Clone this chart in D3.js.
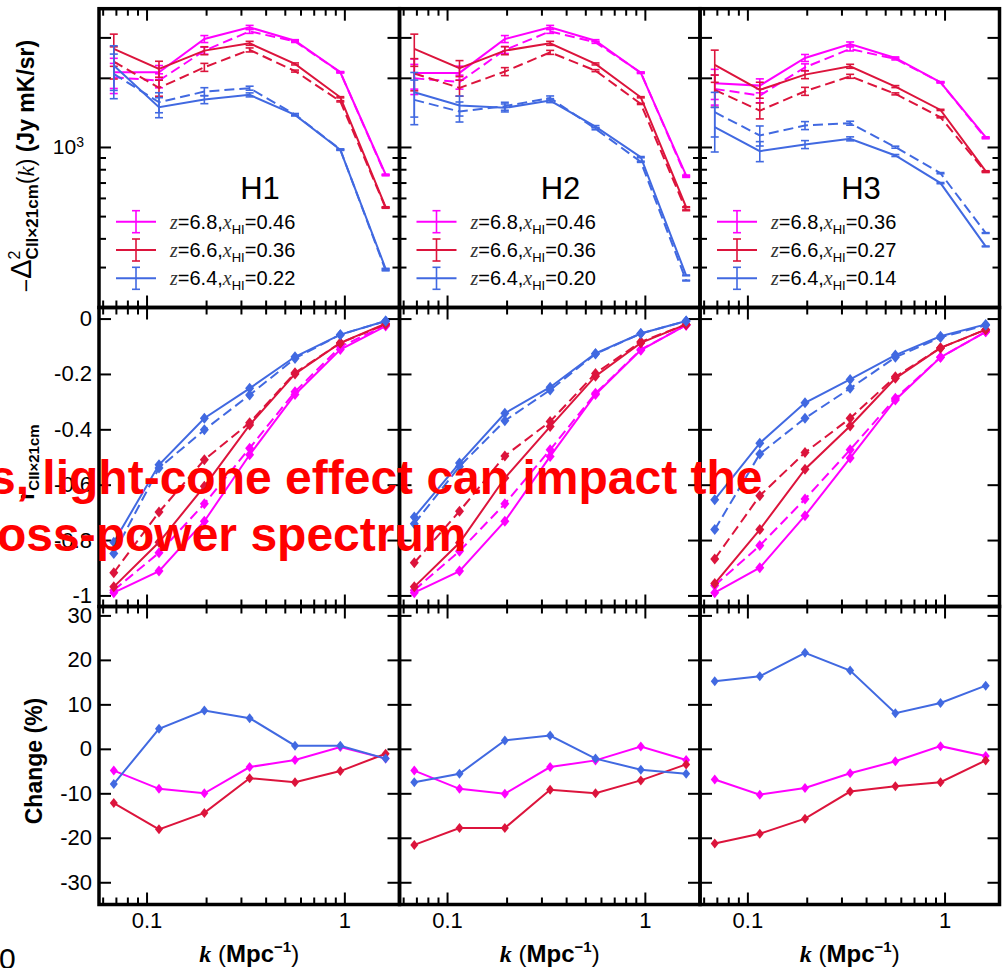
<!DOCTYPE html>
<html>
<head>
<meta charset="utf-8">
<script src="https://cdn.jsdelivr.net/npm/d3@7/dist/d3.min.js"></script>
<style>
  html, body { margin: 0; padding: 0; background: #fff; }
  svg { display: block; }
</style>
</head>
<body>
<svg id="chart" width="1003" height="968"></svg>
<script>
// ---------------- data ----------------
const kBins = [0.0683, 0.1156, 0.196, 0.332, 0.563, 0.954, 1.617];
const panelNames = ["H1", "H2", "H3"];
const redshifts = ["6.8", "6.6", "6.4"];
const xhiH1 = ["0.46", "0.36", "0.22"];
const xhiH2 = ["0.46", "0.36", "0.20"];
const xhiH3 = ["0.36", "0.27", "0.14"];
const seriesColors = ["#ff00ff", "#dc143c", "#4169e1"];

// -Delta^2 cross power (Jy mK/sr); rows: z = 6.8, 6.6, 6.4
const powerCoevalH1 = [
  [2115, 2115, 2952, 3317, 2903, 2115, 759],
  [2672, 2187, 2627, 2827, 2299, 1646, 547],
  [2261, 1490, 1608, 1686, 1379, 972, 295]
];
const powerLightconeH1 = [
  [2010, 1946, 2627, 3187, 2880, 2115, 752],
  [2353, 1808, 2223, 2646, 2140, 1580, 543],
  [2080, 1566, 1742, 1803, 1385, 975, 290]
];
const powerCoevalH2 = [
  [2101, 2101, 2952, 3317, 2903, 2101, 752],
  [2672, 2201, 2627, 2827, 2299, 1646, 547],
  [1730, 1515, 1480, 1592, 1227, 903, 276]
];
const powerLightconeH2 = [
  [1990, 1920, 2646, 3187, 2855, 2110, 740],
  [2090, 1808, 2130, 2582, 2150, 1540, 530],
  [1603, 1427, 1505, 1635, 1200, 862, 262]
];
const powerCoevalH3 = [
  [1894, 1850, 2442, 2809, 2442, 1913, 1103],
  [2276, 1772, 2066, 2246, 1832, 1450, 785],
  [1219, 959, 1025, 1085, 918, 696, 369]
];
const powerLightconeH3 = [
  [1790, 1674, 2223, 2672, 2417, 1913, 1090],
  [1772, 1440, 1748, 2031, 1703, 1347, 777],
  [1417, 1122, 1240, 1269, 998, 769, 422]
];
// fractional 1-sigma errors on the power, per redshift
const powerErr = [
  [0.15, 0.07, 0.035, 0.02, 0.01, 0.006, 0.004],
  [0.16, 0.08, 0.04, 0.02, 0.01, 0.006, 0.004],
  [0.22, 0.10, 0.04, 0.02, 0.01, 0.006, 0.004]
];

// correlation coefficient r_CIIx21cm
const corrCoevalH1 = [
  [-0.990, -0.912, -0.732, -0.492, -0.274, -0.112, -0.027],
  [-0.969, -0.808, -0.606, -0.384, -0.200, -0.088, -0.018],
  [-0.808, -0.528, -0.360, -0.252, -0.138, -0.058, -0.009]
];
const corrLightconeH1 = [
  [-0.981, -0.846, -0.669, -0.468, -0.264, -0.102, -0.024],
  [-0.918, -0.699, -0.510, -0.376, -0.196, -0.088, -0.021],
  [-0.849, -0.540, -0.402, -0.276, -0.144, -0.058, -0.009]
];
const corrCoevalH2 = [
  [-0.990, -0.912, -0.732, -0.498, -0.274, -0.114, -0.024],
  [-0.969, -0.810, -0.576, -0.390, -0.208, -0.088, -0.021],
  [-0.717, -0.522, -0.342, -0.248, -0.126, -0.054, -0.009]
];
const corrLightconeH2 = [
  [-0.981, -0.840, -0.669, -0.474, -0.270, -0.112, -0.024],
  [-0.882, -0.696, -0.496, -0.372, -0.198, -0.084, -0.021],
  [-0.741, -0.534, -0.369, -0.258, -0.128, -0.054, -0.009]
];
const corrCoevalH3 = [
  [-0.990, -0.900, -0.712, -0.504, -0.294, -0.140, -0.048],
  [-0.957, -0.762, -0.544, -0.388, -0.216, -0.106, -0.040],
  [-0.654, -0.450, -0.304, -0.220, -0.132, -0.064, -0.021]
];
const corrLightconeH3 = [
  [-0.964, -0.820, -0.652, -0.474, -0.288, -0.140, -0.048],
  [-0.868, -0.640, -0.484, -0.360, -0.210, -0.106, -0.040],
  [-0.762, -0.489, -0.360, -0.252, -0.140, -0.068, -0.024]
];

// change of the power from the light-cone effect (%)
const changeH1 = [
  [-4.9, -9.0, -10.0, -4.1, -2.5, 0.4, -2.2],
  [-12.2, -18.1, -14.4, -6.6, -7.5, -5.0, -1.1],
  [-7.9, 4.5, 8.6, 6.9, 0.7, 0.7, -2.2]
];
const changeH2 = [
  [-4.9, -9.0, -10.1, -4.1, -2.6, 0.5, -2.5],
  [-21.6, -17.8, -17.8, -9.2, -10.0, -7.1, -3.5],
  [-7.5, -5.6, 1.9, 3.0, -2.2, -4.7, -5.6]
];
const changeH3 = [
  [-6.9, -10.3, -8.8, -5.5, -2.8, 0.6, -1.6],
  [-21.3, -19.1, -15.7, -9.6, -8.4, -7.5, -2.6],
  [15.2, 16.3, 21.6, 17.6, 8.0, 10.3, 14.2]
];

// axis ticks
const xMajorTicks = [0.1, 1];
const xMinorTicks = [0.06, 0.07, 0.08, 0.09, 0.2, 0.3, 0.4, 0.5, 0.6, 0.7, 0.8, 0.9];
const powerMajorTicks = [1000, 2000, 3000];
const powerMinorTicks = [300, 400, 500, 600, 700, 800, 900];
const corrTicks = [0, -0.2, -0.4, -0.6, -0.8, -1];
const changeTicks = [30, 20, 10, 0, -10, -20, -30];

// ---------------- layout ----------------
const SANS = "'Liberation Sans', Arial, Helvetica, sans-serif";
const SERIF = "'Liberation Serif', 'Times New Roman', serif";
const colLeft = [99, 399.5, 700];
const colRight = [399.5, 700, 999.5];
const rowTop = [8.7, 307.5, 606.5];
const rowBottom = [307.5, 606.5, 904.5];
const kDomain = [0.0575, 1.9];

const panels = {
  H1: { xhi: xhiH1, pc: powerCoevalH1, pl: powerLightconeH1, rc: corrCoevalH1, rl: corrLightconeH1, ch: changeH1 },
  H2: { xhi: xhiH2, pc: powerCoevalH2, pl: powerLightconeH2, rc: corrCoevalH2, rl: corrLightconeH2, ch: changeH2 },
  H3: { xhi: xhiH3, pc: powerCoevalH3, pl: powerLightconeH3, rc: corrCoevalH3, rl: corrLightconeH3, ch: changeH3 }
};

const svg = d3.select("#chart");
svg.append("rect").attr("width", 1003).attr("height", 968).attr("fill", "#fff");

function diamondPath(hw, hh) {
  return `M0,${-hh}L${hw},0L0,${hh}L${-hw},0Z`;
}

function styleAxis(sel, fontSize) {
  sel.select(".domain").remove();
  sel.selectAll(".tick line").attr("stroke", "#000").attr("stroke-width", 2);
  sel.attr("font-family", SANS).attr("font-size", fontSize);
  sel.selectAll(".tick text").attr("fill", "#000");
}

// draws inward ticks on all four sides of a panel
function drawFrameTicks(g, x, y, r, c, yMajor, yMinor, yLabelFmt, yPad) {
  const top = rowTop[r], bottom = rowBottom[r], left = colLeft[c], right = colRight[c];
  const xLabels = r === 2;
  const blank = () => "";

  styleAxis(g.append("g").attr("transform", `translate(0,${bottom})`)
    .call(d3.axisBottom(x).tickValues(xMajorTicks).tickSize(-12).tickPadding(8)
      .tickFormat(xLabels ? d => String(d) : blank)), 22);
  styleAxis(g.append("g").attr("transform", `translate(0,${bottom})`)
    .call(d3.axisBottom(x).tickValues(xMinorTicks).tickSize(-7).tickFormat(blank)), 22);
  styleAxis(g.append("g").attr("transform", `translate(0,${top})`)
    .call(d3.axisTop(x).tickValues(xMajorTicks).tickSize(-12).tickFormat(blank)), 22);
  styleAxis(g.append("g").attr("transform", `translate(0,${top})`)
    .call(d3.axisTop(x).tickValues(xMinorTicks).tickSize(-7).tickFormat(blank)), 22);

  const leftAxis = g.append("g").attr("transform", `translate(${left},0)`)
    .call(d3.axisLeft(y).tickValues(yMajor).tickSize(-12).tickPadding(yPad)
      .tickFormat(c === 0 && yLabelFmt ? yLabelFmt : blank));
  styleAxis(leftAxis, 22);
  styleAxis(g.append("g").attr("transform", `translate(${right},0)`)
    .call(d3.axisRight(y).tickValues(yMajor).tickSize(-12).tickFormat(blank)), 22);
  if (yMinor) {
    styleAxis(g.append("g").attr("transform", `translate(${left},0)`)
      .call(d3.axisLeft(y).tickValues(yMinor).tickSize(-7).tickFormat(blank)), 22);
    styleAxis(g.append("g").attr("transform", `translate(${right},0)`)
      .call(d3.axisRight(y).tickValues(yMinor).tickSize(-7).tickFormat(blank)), 22);
  }
  return leftAxis;
}

const plot = svg.append("g");
const frames = svg.append("g");

panelNames.forEach((name, c) => {
  const P = panels[name];
  const x = d3.scaleLog().domain(kDomain).range([colLeft[c], colRight[c]]);

  // ---------- top row: cross power ----------
  const yP = d3.scaleLog().domain([200, 4000]).range([rowBottom[0], rowTop[0]]);
  const gTop = plot.append("g");
  const la = drawFrameTicks(gTop, x, yP, 0, c, powerMajorTicks, powerMinorTicks,
    d => (d === 1000 ? "10" : ""), 15);
  if (c === 0) {
    la.selectAll(".tick text").filter(d => d === 1000)
      .attr("font-size", 21)
      .append("tspan").attr("font-size", 14).attr("dy", "-0.55em").text("3");
  }
  const lineP = d3.line().x((d, i) => x(kBins[i])).y(d => yP(d));
  [0, 1, 2].forEach(s => {
    [[P.pc[s], null], [P.pl[s], "10,5"]].forEach(([vals, dash]) => {
      gTop.append("path").datum(vals).attr("d", lineP)
        .attr("fill", "none").attr("stroke", seriesColors[s]).attr("stroke-width", 2)
        .attr("stroke-dasharray", dash);
      const eb = gTop.append("g").attr("stroke", seriesColors[s]).attr("stroke-width", 1.6);
      vals.forEach((v, i) => {
        const e = powerErr[s][i];
        const xi = x(kBins[i]);
        const y1 = yP(v * (1 + e)), y2 = yP(v * (1 - e));
        eb.append("line").attr("x1", xi).attr("x2", xi).attr("y1", y1).attr("y2", y2);
        eb.append("line").attr("x1", xi - 4).attr("x2", xi + 4).attr("y1", y1).attr("y2", y1);
        eb.append("line").attr("x1", xi - 4).attr("x2", xi + 4).attr("y1", y2).attr("y2", y2);
      });
    });
  });

  // panel name
  gTop.append("text").attr("x", colLeft[c] + 161).attr("y", 199)
    .attr("text-anchor", "middle").attr("font-family", SANS).attr("font-size", 31)
    .text(name);

  // legend
  const legRows = [221.7, 250, 278.3];
  redshifts.forEach((zv, s) => {
    const ly = legRows[s];
    const lx0 = colLeft[c] + 17, lx1 = colLeft[c] + 57, lxm = (lx0 + lx1) / 2;
    const lg = gTop.append("g").attr("stroke", seriesColors[s]);
    lg.append("line").attr("x1", lx0).attr("x2", lx1).attr("y1", ly).attr("y2", ly).attr("stroke-width", 2);
    lg.append("line").attr("x1", lxm).attr("x2", lxm).attr("y1", ly - 11).attr("y2", ly + 11).attr("stroke-width", 1.6);
    lg.append("line").attr("x1", lxm - 4).attr("x2", lxm + 4).attr("y1", ly - 11).attr("y2", ly - 11).attr("stroke-width", 1.6);
    lg.append("line").attr("x1", lxm - 4).attr("x2", lxm + 4).attr("y1", ly + 11).attr("y2", ly + 11).attr("stroke-width", 1.6);
    const t = gTop.append("text").attr("x", colLeft[c] + 71).attr("y", ly + 7)
      .attr("font-family", SANS).attr("font-size", 20).attr("fill", "#000");
    t.append("tspan").attr("font-family", SERIF).attr("font-style", "italic").attr("fill", "#333").text("z");
    t.append("tspan").text("=" + zv + ",");
    t.append("tspan").attr("font-family", SERIF).attr("font-style", "italic").attr("fill", "#333").text("x");
    t.append("tspan").attr("font-size", 13).attr("dy", 5).text("HI");
    t.append("tspan").attr("dy", -5).text("=" + P.xhi[s]);
  });

  // ---------- middle row: correlation coefficient ----------
  const yR = d3.scaleLinear().domain([-1.04, 0.04]).range([rowBottom[1], rowTop[1]]);
  const gMid = plot.append("g");
  drawFrameTicks(gMid, x, yR, 1, c, corrTicks, null, d => String(d), 7);
  const lineR = d3.line().x((d, i) => x(kBins[i])).y(d => yR(d));
  [0, 1, 2].forEach(s => {
    [[P.rc[s], null], [P.rl[s], "10,5"]].forEach(([vals, dash]) => {
      gMid.append("path").datum(vals).attr("d", lineR)
        .attr("fill", "none").attr("stroke", seriesColors[s]).attr("stroke-width", 2)
        .attr("stroke-dasharray", dash);
      gMid.append("g").selectAll("path").data(vals).join("path")
        .attr("transform", (d, i) => `translate(${x(kBins[i])},${yR(d)})`)
        .attr("d", diamondPath(4.5, 5.5)).attr("fill", seriesColors[s]);
    });
  });

  // ---------- bottom row: change (%) ----------
  const yC = d3.scaleLinear().domain([-35, 32]).range([rowBottom[2], rowTop[2]]);
  const gBot = plot.append("g");
  drawFrameTicks(gBot, x, yC, 2, c, changeTicks, null, d => String(d), 7);
  const lineC = d3.line().x((d, i) => x(kBins[i])).y(d => yC(d));
  [0, 1, 2].forEach(s => {
    gBot.append("path").datum(P.ch[s]).attr("d", lineC)
      .attr("fill", "none").attr("stroke", seriesColors[s]).attr("stroke-width", 2);
    gBot.append("g").selectAll("path").data(P.ch[s]).join("path")
      .attr("transform", (d, i) => `translate(${x(kBins[i])},${yC(d)})`)
      .attr("d", diamondPath(4, 5)).attr("fill", seriesColors[s]);
  });

  // x-axis title
  const xt = svg.append("text").attr("x", (colLeft[c] + colRight[c]) / 2).attr("y", 962)
    .attr("text-anchor", "middle").attr("font-family", SANS).attr("font-size", 24).attr("fill", "#000");
  xt.append("tspan").attr("font-family", SERIF).attr("font-style", "italic").attr("font-weight", "bold").text("k");
  xt.append("tspan").text(" (");
  xt.append("tspan").attr("font-weight", "bold").text("Mpc");
  xt.append("tspan").attr("font-weight", "bold").attr("font-size", 15).attr("dy", -10).text("\u22121");
  xt.append("tspan").attr("dy", 10).text(")");

  // frames
  [0, 1, 2].forEach(r => {
    frames.append("rect").attr("x", colLeft[c]).attr("y", rowTop[r])
      .attr("width", colRight[c] - colLeft[c]).attr("height", rowBottom[r] - rowTop[r])
      .attr("fill", "none").attr("stroke", "#000").attr("stroke-width", 3.5);
  });
});

// ---------- y-axis titles ----------
const yt1 = svg.append("text").attr("transform", "translate(34,166) rotate(-90)")
  .attr("text-anchor", "middle").attr("font-family", SANS).attr("font-size", 23).attr("fill", "#000");
yt1.append("tspan").text("\u2212");
yt1.append("tspan").attr("font-size", 29).attr("dy", -3).text("\u0394");
yt1.append("tspan").attr("font-size", 16).attr("dy", -11).text("2");
yt1.append("tspan").attr("font-size", 17).attr("font-weight", "bold").attr("dx", -8.9).attr("dy", 18).text("CII\u00d721cm");
yt1.append("tspan").attr("dy", -4).text("(");
yt1.append("tspan").attr("font-family", SERIF).attr("font-style", "italic").text("k");
yt1.append("tspan").text(") ");
yt1.append("tspan").attr("font-weight", "bold").text("(Jy mK/sr)");

const yt2 = svg.append("text").attr("transform", "translate(34,462) rotate(-90)")
  .attr("text-anchor", "middle").attr("font-family", SANS).attr("font-weight", "bold").attr("fill", "#000");
yt2.append("tspan").attr("font-size", 23).text("r");
yt2.append("tspan").attr("font-size", 15).attr("dy", 5).text("CII\u00d721cm");

svg.append("text").attr("transform", "translate(42,761) rotate(-90)")
  .attr("text-anchor", "middle").attr("font-family", SANS).attr("font-weight", "bold")
  .attr("font-size", 23).attr("fill", "#000").text("Change (%)");

// ---------- slide text overlay ----------
svg.append("text").attr("x", -1).attr("y", 969).attr("font-family", SANS)
  .attr("font-size", 30).attr("fill", "#000").text("0");
svg.append("text").attr("x", -11).attr("y", 494).attr("font-family", SANS).attr("font-weight", "bold")
  .attr("font-size", 48).attr("fill", "#ff0000").text("s, light-cone effect can impact the");
svg.append("text").attr("x", -3).attr("y", 551).attr("font-family", SANS).attr("font-weight", "bold")
  .attr("font-size", 48).attr("fill", "#ff0000").text("oss-power spectrum");
</script>
</body>
</html>
